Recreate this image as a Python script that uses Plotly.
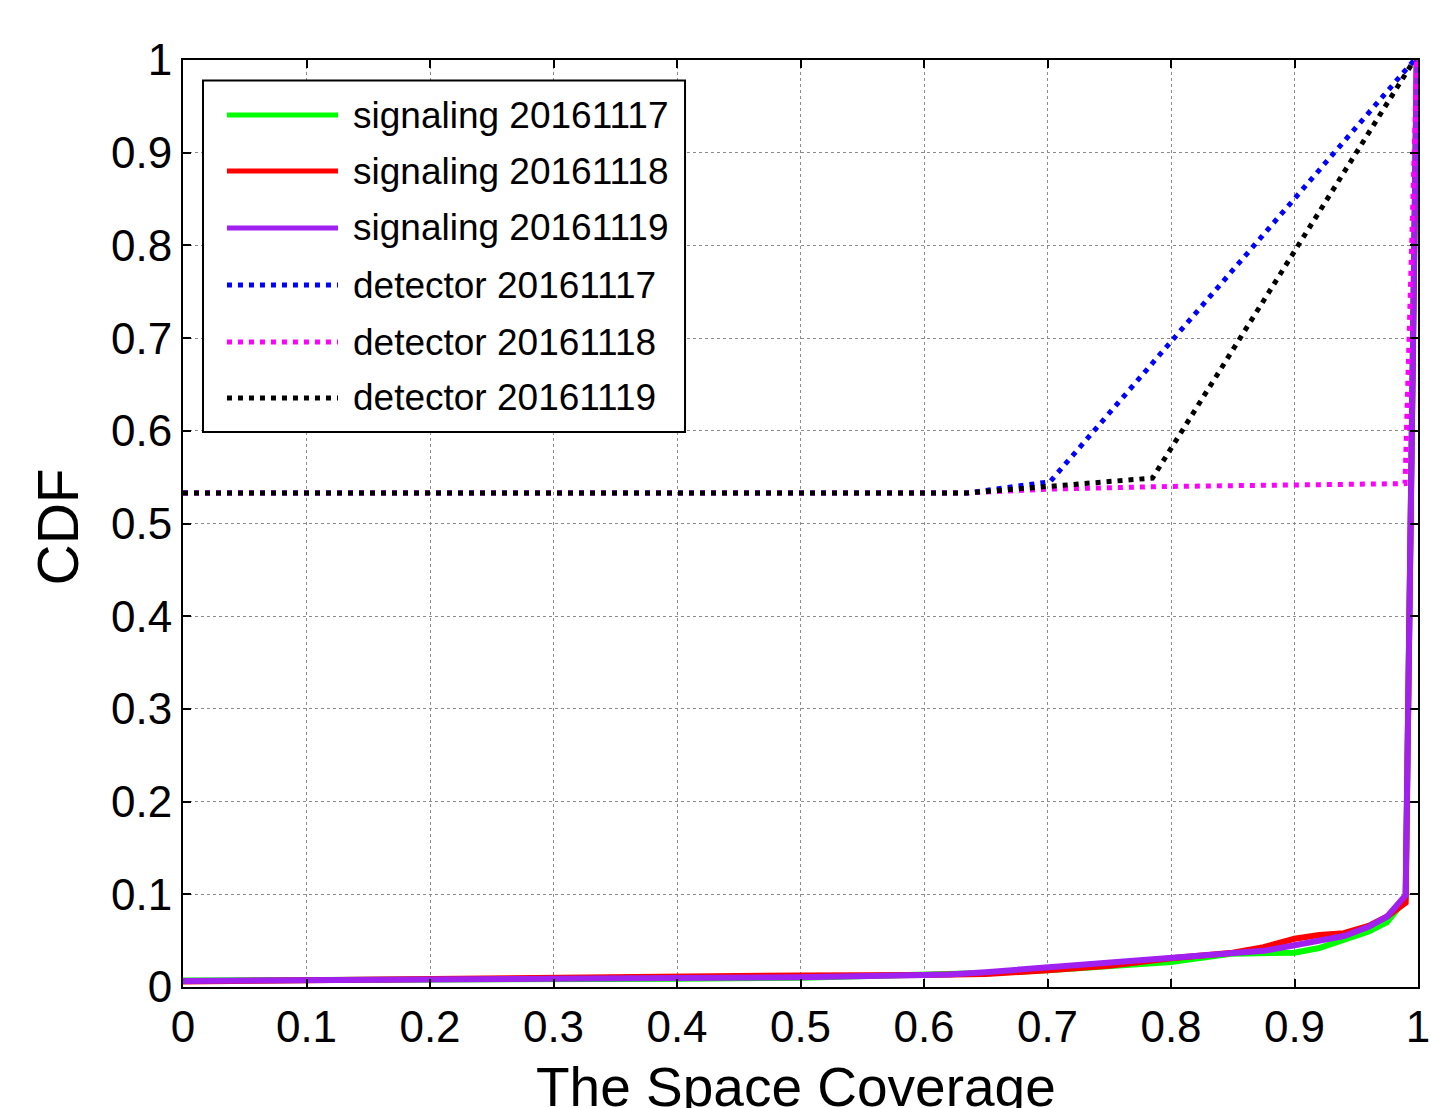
import plotly.graph_objects as go

# Space coverage CDFs from signaling data (per day)
sig_x = [0, 0.1, 0.2, 0.3, 0.4, 0.5, 0.6, 0.62, 0.65, 0.7, 0.75, 0.8, 0.85,
         0.875, 0.9, 0.92, 0.94, 0.96, 0.975, 0.99, 0.999]
sig_1117 = [0.007, 0.0072, 0.0075, 0.008, 0.009, 0.010, 0.013, 0.014, 0.015,
            0.018, 0.022, 0.027, 0.036, 0.037, 0.037, 0.042, 0.051, 0.060,
            0.070, 0.095, 1.0]
sig_1118 = [0.006, 0.0075, 0.008, 0.009, 0.011, 0.0125, 0.013, 0.0135, 0.014,
            0.018, 0.023, 0.031, 0.037, 0.043, 0.052, 0.056, 0.058, 0.066,
            0.076, 0.091, 1.0]
sig_1119 = [0.0065, 0.007, 0.0075, 0.008, 0.009, 0.0105, 0.013, 0.0135, 0.016,
            0.021, 0.025, 0.030, 0.035, 0.039, 0.045, 0.050, 0.055, 0.065,
            0.076, 0.099, 1.0]

# Space coverage CDFs from detector data (per day)
det_1117_x = [0, 0.635, 0.702, 0.997]
det_1117_y = [0.533, 0.533, 0.545, 1.0]
det_1118_x = [0, 0.635, 0.70, 0.80, 0.9895, 0.999]
det_1118_y = [0.533, 0.533, 0.537, 0.540, 0.543, 1.0]
det_1119_x = [0, 0.635, 0.785, 0.997]
det_1119_y = [0.533, 0.533, 0.549, 1.0]

tick_vals = [0, 0.1, 0.2, 0.3, 0.4, 0.5, 0.6, 0.7, 0.8, 0.9, 1]
tick_text = ["0", "0.1", "0.2", "0.3", "0.4", "0.5", "0.6", "0.7", "0.8", "0.9", "1"]

series = [
    ("signaling 20161117", sig_x, sig_1117, "#00FF00", "solid"),
    ("signaling 20161118", sig_x, sig_1118, "#FF0000", "solid"),
    ("signaling 20161119", sig_x, sig_1119, "#A020F0", "solid"),
    ("detector 20161117", det_1117_x, det_1117_y, "#0000FF", "dot"),
    ("detector 20161118", det_1118_x, det_1118_y, "#FF00FF", "dot"),
    ("detector 20161119", det_1119_x, det_1119_y, "#000000", "dot"),
]

FONT = "Arial, 'Liberation Sans', sans-serif"
DOT_DASH = "5px,6px"

fig = go.Figure()
for name, xs, ys, color, style in series:
    if style == "solid":
        line = dict(color=color, width=6)
    else:
        line = dict(color=color, width=5, dash=DOT_DASH)
    fig.add_trace(go.Scatter(x=xs, y=ys, mode="lines", name=name, line=line,
                             showlegend=False))

axis_common = dict(
    range=[0, 1],
    tickvals=tick_vals,
    ticktext=tick_text,
    automargin=False,
    showgrid=True,
    gridcolor="#8c8c8c",
    gridwidth=1,
    griddash="dot",
    zeroline=False,
    showline=True,
    linecolor="black",
    linewidth=2,
    mirror="ticks",
    ticks="inside",
    ticklen=8,
    tickwidth=2,
    tickcolor="black",
    tickfont=dict(family=FONT, size=44, color="black"),
)

fig.update_xaxes(**axis_common)
fig.update_yaxes(**axis_common)

# Legend box drawn in paper coordinates
shapes = [dict(type="rect", xref="paper", yref="paper",
               x0=0.0162, x1=0.4065, y0=0.5987, y1=0.978,
               line=dict(color="black", width=2), fillcolor="white", layer="above")]
annotations = []
row_px = [115, 171, 228, 285, 342, 398]
for (name, xs, ys, color, style), py in zip(series, row_px):
    yp = (987 - py) / 927
    ln = dict(color=color, width=5)
    if style != "solid":
        ln["dash"] = DOT_DASH
    shapes.append(dict(type="line", xref="paper", yref="paper",
                       x0=0.0356, x1=0.1255, y0=yp, y1=yp, line=ln, layer="above"))
    annotations.append(dict(xref="paper", yref="paper", x=0.136, y=yp,
                            xanchor="left", yanchor="middle", showarrow=False,
                            text=name, font=dict(family=FONT, size=37, color="black")))

annotations.append(dict(xref="paper", yref="paper", x=-0.101, y=0.496,
                        xanchor="center", yanchor="middle", showarrow=False,
                        textangle=-90, text="CDF",
                        font=dict(family=FONT, size=57, color="black")))
annotations.append(dict(xref="paper", yref="paper", x=0.496, y=-0.072,
                        xanchor="center", yanchor="top", showarrow=False,
                        text="The Space Coverage",
                        font=dict(family=FONT, size=55, color="black")))

fig.update_layout(
    width=1431,
    height=1108,
    margin=dict(l=183, r=13, t=60, b=121, pad=0),
    paper_bgcolor="white",
    plot_bgcolor="white",
    showlegend=False,
    shapes=shapes,
    annotations=annotations,
)

fig.write_html("out.html")
